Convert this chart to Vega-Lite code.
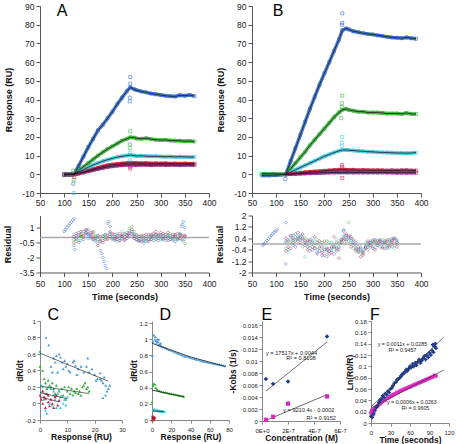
{
"$schema":"https://vega.github.io/schema/vega-lite/v6.json",
"padding":{"left":-2,"top":2,"right":0,"bottom":0},
"config":{
 "font":"Liberation Sans",
 "view":{"stroke":null},
 "axis":{"grid":false,"labelFont":"Liberation Sans","labelFontSize":8.5,"labelColor":"#222","titleFont":"Liberation Sans","titleFontSize":9,"titleFontWeight":"bold","titleColor":"#111","domainColor":"#555","tickColor":"#555","labelFlush":false,"labelOverlap":false,"labelBound":false,"tickCount":100,"labelExpr":"'' + datum.value"},
 "text":{"font":"Liberation Sans"},
 "title":{"font":"Liberation Sans"}
},
"datasets":{
 "A":[
  {"t":100,"b":-0.5,"g":0,"c":0.2,"r":-0.3,"m":0},
  {"t":105,"b":-0.3,"g":-0.2,"c":0,"r":0,"m":0.1},
  {"t":110,"b":0,"g":0.1,"c":0,"r":-0.2,"m":-0.1},
  {"t":115,"b":-0.2,"g":0,"c":0.2,"r":0,"m":0},
  {"t":120,"b":0,"g":0,"c":0,"r":0,"m":0},
  {"t":125,"b":2,"g":1,"c":0.6,"r":0.3,"m":0.3},
  {"t":130,"b":4.5,"g":2,"c":1.2,"r":0.5,"m":0.4},
  {"t":140,"b":9.5,"g":4,"c":2.5,"r":1.2,"m":1},
  {"t":150,"b":14.5,"g":6,"c":3.8,"r":2,"m":1.6},
  {"t":160,"b":19,"g":8,"c":5,"r":2.8,"m":2.2},
  {"t":170,"b":23.5,"g":10,"c":6,"r":3.5,"m":2.8},
  {"t":180,"b":26.5,"g":11.8,"c":7,"r":4.2,"m":3.4},
  {"t":190,"b":30,"g":13.5,"c":7.8,"r":4.8,"m":3.9},
  {"t":200,"b":33.5,"g":15,"c":8.5,"r":5.2,"m":4.3},
  {"t":210,"b":37.5,"g":16.5,"c":9.2,"r":5.5,"m":4.6},
  {"t":220,"b":41,"g":18,"c":9.6,"r":5.8,"m":4.8},
  {"t":230,"b":44.5,"g":19,"c":10,"r":6,"m":5},
  {"t":237,"b":46.5,"g":19.8,"c":10.3,"r":6.2,"m":5.1},
  {"t":245,"b":45.5,"g":19.6,"c":10,"r":6,"m":5},
  {"t":250,"b":45,"g":19.2,"c":9.8,"r":6.1,"m":4.9},
  {"t":260,"b":44.3,"g":19,"c":9.9,"r":5.9,"m":5.1},
  {"t":270,"b":43.8,"g":19.3,"c":9.7,"r":6,"m":5},
  {"t":280,"b":43.2,"g":18.8,"c":9.6,"r":5.8,"m":4.9},
  {"t":290,"b":42.8,"g":18.5,"c":9.6,"r":5.9,"m":5},
  {"t":300,"b":42.4,"g":18.3,"c":9.5,"r":5.8,"m":5.1},
  {"t":310,"b":42,"g":18.4,"c":9.4,"r":5.9,"m":4.9},
  {"t":320,"b":41.8,"g":18.1,"c":9.5,"r":5.7,"m":5},
  {"t":330,"b":41.6,"g":18,"c":9.3,"r":5.8,"m":5},
  {"t":340,"b":42.3,"g":17.9,"c":9.4,"r":5.7,"m":4.9},
  {"t":350,"b":42,"g":17.7,"c":9.3,"r":5.8,"m":5},
  {"t":360,"b":42.4,"g":17.8,"c":9.2,"r":5.6,"m":5},
  {"t":370,"b":41.8,"g":17.5,"c":9.2,"r":5.7,"m":4.9}
 ],
 "As":[{"t":237,"s":"b","y":52},{"t":237,"s":"b","y":48.5},{"t":236,"s":"b","y":41},{"t":236,"s":"b","y":39},{"t":237,"s":"g","y":23},{"t":236,"s":"g","y":16},{"t":236,"s":"g","y":14},{"t":237,"s":"c","y":11.5},{"t":236,"s":"c","y":7.5},{"t":237,"s":"r","y":3},{"t":237,"s":"m","y":4},{"t":120,"s":"c","y":-10},{"t":119,"s":"b","y":-5},{"t":120,"s":"g","y":-3},{"t":119,"s":"g","y":2},{"t":121,"s":"r","y":-1.5}],
 "B":[
  {"t":70,"b":-0.6,"g":0.3},{"t":78,"b":-0.5,"g":0.3},{"t":86,"b":-0.6,"g":0.2},{"t":94,"b":-0.4,"g":0.3},{"t":100,"b":-0.5,"g":0.2},{"t":110,"b":-0.2,"g":0.1},
  {"t":120,"b":0,"g":0,"c":0,"r":0,"m":0},
  {"t":130,"b":7,"g":3,"c":1.2,"r":0.2,"m":0.1},
  {"t":140,"b":14,"g":6,"c":2.4,"r":0.5,"m":0.2},
  {"t":150,"b":21,"g":9,"c":3.6,"r":0.8,"m":0.3},
  {"t":160,"b":28,"g":12,"c":4.8,"r":1.1,"m":0.4},
  {"t":170,"b":35,"g":15.5,"c":6,"r":1.3,"m":0.5},
  {"t":180,"b":41.5,"g":18.5,"c":7.2,"r":1.5,"m":0.6},
  {"t":190,"b":48,"g":21.5,"c":8.4,"r":1.7,"m":0.7},
  {"t":200,"b":54,"g":24.5,"c":9.6,"r":1.9,"m":0.8},
  {"t":210,"b":60,"g":27.5,"c":10.6,"r":2.1,"m":0.9},
  {"t":220,"b":66,"g":30.5,"c":11.6,"r":2.3,"m":1},
  {"t":230,"b":72,"g":33,"c":12.5,"r":2.4,"m":1},
  {"t":237,"b":77,"g":34.5,"c":13,"r":2.5,"m":1.1},
  {"t":245,"b":78,"g":35,"c":13,"r":2.4,"m":1},
  {"t":250,"b":77.5,"g":34.5,"c":12.9,"r":2.3,"m":1.1},
  {"t":260,"b":76.5,"g":34,"c":12.7,"r":2.4,"m":0.9},
  {"t":270,"b":76,"g":33.5,"c":12.5,"r":2.2,"m":1},
  {"t":280,"b":75.5,"g":33.5,"c":12.3,"r":2.3,"m":1},
  {"t":290,"b":75,"g":33,"c":12.1,"r":2.2,"m":0.9},
  {"t":300,"b":74.8,"g":33,"c":12,"r":2.1,"m":1},
  {"t":310,"b":74.3,"g":33,"c":11.8,"r":2.2,"m":0.9},
  {"t":320,"b":74,"g":32.8,"c":11.7,"r":2.1,"m":1},
  {"t":330,"b":73.5,"g":32.5,"c":11.6,"r":2,"m":0.9},
  {"t":340,"b":73.2,"g":32.5,"c":11.5,"r":2.1,"m":0.9},
  {"t":350,"b":73,"g":32.5,"c":11.4,"r":2,"m":0.8},
  {"t":360,"b":72.8,"g":32.3,"c":11.4,"r":2.1,"m":0.9},
  {"t":370,"b":73.2,"g":32.8,"c":11.3,"r":2.2,"m":0.8},
  {"t":380,"b":72.8,"g":32.3,"c":11.4,"r":2,"m":0.9},
  {"t":390,"b":72.5,"g":32.2,"c":11.6,"r":2,"m":0.8}
 ],
 "Bs":[{"t":237,"s":"b","y":86},{"t":237,"s":"b","y":81},{"t":236,"s":"b","y":80},{"t":237,"s":"g","y":42},{"t":236,"s":"g","y":38},{"t":236,"s":"g","y":36},{"t":235,"s":"g","y":30},{"t":237,"s":"c","y":20},{"t":236,"s":"c","y":17},{"t":236,"s":"c","y":15},{"t":237,"s":"r","y":4},{"t":236,"s":"m","y":5},{"t":237,"s":"r","y":-2},{"t":119,"s":"b","y":-2.5}],
 "RA":[
  {"t":120,"b":-0.8,"g":-0.2,"c":0.3,"r":-0.5,"m":0.1},
  {"t":125,"b":0.2,"g":-0.4,"c":-0.2,"r":0.4,"m":-0.1},
  {"t":130,"b":0.5,"g":-0.3,"c":0.1,"r":0.2,"m":-0.5},
  {"t":135,"b":0.1,"g":0.2,"c":-0.3,"r":0.6,"m":0.3},
  {"t":140,"b":0.6,"g":0.1,"c":0.4,"r":0.2,"m":-0.2},
  {"t":145,"b":0.8,"g":0.5,"c":0.2,"r":0.7,"m":0.4},
  {"t":150,"b":0.4,"g":-0.1,"c":0.6,"r":0.3,"m":0.8},
  {"t":155,"b":0.2,"g":0.3,"c":-0.1,"r":0.5,"m":0.1},
  {"t":160,"b":-0.1,"g":0.6,"c":0.3,"r":-0.2,"m":0.5},
  {"t":165,"b":-0.3,"g":0.2,"c":-0.4,"r":0.1,"m":-0.1},
  {"t":170,"b":-0.6,"g":-0.2,"c":0.1,"r":-0.8,"m":0.2},
  {"t":175,"b":-1.3,"g":0.1,"c":-0.2,"r":-0.4,"m":-0.3},
  {"t":180,"b":-2.0,"g":-0.3,"c":0.2,"r":0.1,"m":-0.5},
  {"t":185,"b":-2.8,"g":0.2,"c":-0.1,"r":-0.2,"m":0.3},
  {"t":190,"b":1.4,"g":-0.1,"c":0.3,"r":0.2,"m":-0.2},
  {"t":195,"b":1.1,"g":0.3,"c":0.5,"r":0.6,"m":0.1},
  {"t":200,"b":0.3,"g":-0.2,"c":0.1,"r":-0.1,"m":0.4},
  {"t":205,"b":-0.1,"g":0.1,"c":-0.3,"r":0.3,"m":-0.2},
  {"t":210,"b":0.2,"g":-0.4,"c":0.4,"r":-0.2,"m":0.1},
  {"t":215,"b":-0.3,"g":0.2,"c":-0.1,"r":0.4,"m":-0.3},
  {"t":220,"b":0.1,"g":-0.1,"c":0.6,"r":0.1,"m":0.2},
  {"t":225,"b":-0.2,"g":0.3,"c":-0.2,"r":-0.3,"m":0.4},
  {"t":230,"b":0.2,"g":0.5,"c":0.3,"r":0.2,"m":-0.1},
  {"t":235,"b":0.5,"g":0.9,"c":0.7,"r":0.4,"m":0.2},
  {"t":240,"b":0.3,"g":1.1,"c":0.4,"r":0.8,"m":0.6},
  {"t":245,"b":0.1,"g":0.6,"c":0.2,"r":-0.1,"m":0.3},
  {"t":250,"b":-0.2,"g":0.3,"c":-0.3,"r":0.2,"m":-0.2},
  {"t":255,"b":-0.4,"g":-0.1,"c":0.1,"r":-0.3,"m":0.1},
  {"t":260,"b":-0.3,"g":0.2,"c":-0.2,"r":0.1,"m":-0.4},
  {"t":265,"b":-0.6,"g":-0.3,"c":0.2,"r":-0.2,"m":0.2},
  {"t":270,"b":-0.4,"g":0.1,"c":-0.3,"r":0.3,"m":-0.1},
  {"t":275,"b":-0.2,"g":-0.2,"c":0.1,"r":-0.4,"m":0.3},
  {"t":280,"b":0.1,"g":0.3,"c":-0.2,"r":0.2,"m":-0.2},
  {"t":285,"b":-0.3,"g":0.1,"c":0.3,"r":0.4,"m":0.1},
  {"t":290,"b":0.2,"g":-0.2,"c":-0.1,"r":0.6,"m":0.3},
  {"t":295,"b":-0.1,"g":0.3,"c":0.2,"r":0.2,"m":-0.3},
  {"t":300,"b":0.3,"g":-0.1,"c":-0.2,"r":0.5,"m":0.2},
  {"t":305,"b":-0.2,"g":0.2,"c":0.1,"r":-0.1,"m":0.4},
  {"t":310,"b":0.1,"g":-0.3,"c":0.3,"r":0.3,"m":-0.1},
  {"t":315,"b":-0.3,"g":0.1,"c":-0.1,"r":0.5,"m":0.2},
  {"t":320,"b":0.2,"g":0.4,"c":0.2,"r":-0.2,"m":-0.2},
  {"t":325,"b":-0.1,"g":-0.2,"c":-0.3,"r":0.3,"m":0.1},
  {"t":330,"b":-0.4,"g":0.2,"c":0.1,"r":0.1,"m":0.3},
  {"t":335,"b":-0.2,"g":-0.1,"c":-0.2,"r":0.4,"m":-0.1},
  {"t":340,"b":0.4,"g":0.3,"c":0.2,"r":-0.1,"m":0.2},
  {"t":345,"b":1.3,"g":-0.2,"c":0.1,"r":0.2,"m":-0.3},
  {"t":350,"b":1.0,"g":-0.6,"c":-0.2,"r":0.1,"m":0.2}
 ],
 "RAx":[{"t":100,"s":"b","y":0.6},{"t":103,"s":"b","y":0.8},{"t":106,"s":"b","y":1.0},{"t":109,"s":"b","y":1.2},{"t":112,"s":"b","y":1.4},{"t":115,"s":"b","y":1.55},{"t":118,"s":"b","y":1.75},{"t":121,"s":"b","y":1.9},{"t":122,"s":"b","y":-1.2},{"t":178,"s":"b","y":-1.6},{"t":183,"s":"b","y":-2.4},{"t":188,"s":"b","y":-3.1},{"t":192,"s":"b","y":1.6},{"t":347,"s":"b","y":1.6},{"t":343,"s":"b","y":1.1}],
 "RB":[
  {"t":120,"b":0.2,"g":-0.3,"c":0.1,"r":-0.5,"m":0.4},
  {"t":125,"b":-0.4,"g":0.3,"c":-0.6,"r":0.2,"m":-0.2},
  {"t":130,"b":0.5,"g":0.1,"c":0.3,"r":-0.3,"m":0.6},
  {"t":135,"b":0.3,"g":0.6,"c":-0.1,"r":0.4,"m":0.1},
  {"t":140,"b":0.7,"g":0.2,"c":0.5,"r":0.3,"m":-0.2},
  {"t":145,"b":0.4,"g":0.5,"c":0.2,"r":0.8,"m":0.3},
  {"t":150,"b":0.6,"g":0.3,"c":0.4,"r":0.1,"m":0.5},
  {"t":155,"b":0.3,"g":-0.2,"c":0.6,"r":0.4,"m":0.7},
  {"t":160,"b":0.1,"g":0.4,"c":-0.9,"r":0.2,"m":-0.1},
  {"t":165,"b":-0.2,"g":0.1,"c":0.3,"r":-0.4,"m":0.2},
  {"t":170,"b":0.2,"g":-0.3,"c":-0.1,"r":0.3,"m":-0.5},
  {"t":175,"b":-0.4,"g":0.2,"c":0.4,"r":-0.2,"m":0.1},
  {"t":180,"b":-0.3,"g":-0.1,"c":0.2,"r":0.5,"m":-0.3},
  {"t":185,"b":-0.6,"g":0.3,"c":-0.4,"r":0.1,"m":-0.7},
  {"t":190,"b":-0.5,"g":-0.2,"c":0.1,"r":-0.3,"m":0.2},
  {"t":195,"b":-0.8,"g":0.1,"c":-0.5,"r":-0.6,"m":-0.2},
  {"t":200,"b":-0.4,"g":-0.4,"c":-0.2,"r":0.2,"m":-0.8},
  {"t":205,"b":-0.9,"g":0.2,"c":-0.6,"r":-0.4,"m":-0.3},
  {"t":210,"b":-0.5,"g":-0.3,"c":0.1,"r":-0.7,"m":-0.5},
  {"t":215,"b":-0.3,"g":0.1,"c":-0.4,"r":-0.2,"m":-0.6},
  {"t":220,"b":-0.7,"g":-0.2,"c":-0.1,"r":0.5,"m":-0.2},
  {"t":225,"b":-0.4,"g":-0.5,"c":0.3,"r":-0.3,"m":0.1},
  {"t":230,"b":-0.2,"g":0.1,"c":-0.2,"r":-1.0,"m":-0.4},
  {"t":235,"b":0.3,"g":0.2,"c":0.1,"r":0.1,"m":0.3},
  {"t":240,"b":0.9,"g":0.5,"c":0.6,"r":0.3,"m":0.4},
  {"t":245,"b":0.6,"g":0.3,"c":0.4,"r":0.7,"m":0.2},
  {"t":250,"b":0.4,"g":1.5,"c":0.2,"r":0.5,"m":0.6},
  {"t":255,"b":0.5,"g":0.1,"c":0.3,"r":-0.2,"m":0.4},
  {"t":260,"b":0.1,"g":-0.3,"c":0.2,"r":0.3,"m":-0.1},
  {"t":265,"b":-0.3,"g":-0.5,"c":-0.1,"r":-0.4,"m":0.1},
  {"t":270,"b":-0.4,"g":-0.6,"c":-0.3,"r":-0.2,"m":-0.5},
  {"t":275,"b":-0.6,"g":-0.4,"c":-0.2,"r":-0.9,"m":-0.3},
  {"t":280,"b":-0.5,"g":-0.8,"c":-0.4,"r":-0.6,"m":-0.7},
  {"t":285,"b":-0.2,"g":-0.3,"c":0.1,"r":-0.3,"m":-0.2},
  {"t":290,"b":-0.1,"g":0.1,"c":-0.2,"r":0.2,"m":-0.4},
  {"t":295,"b":0.1,"g":-0.2,"c":0.2,"r":-0.1,"m":0.1},
  {"t":300,"b":-0.3,"g":0.3,"c":0.1,"r":0.2,"m":-0.2},
  {"t":305,"b":0.2,"g":0.1,"c":-0.3,"r":-0.4,"m":0.3},
  {"t":310,"b":-0.1,"g":0.2,"c":0.3,"r":0.1,"m":-0.1},
  {"t":315,"b":0.3,"g":-0.2,"c":0.1,"r":0.2,"m":0.2},
  {"t":320,"b":-0.2,"g":0.3,"c":-0.1,"r":-0.3,"m":0.1},
  {"t":325,"b":0.1,"g":0.2,"c":0.2,"r":0.1,"m":-0.3},
  {"t":330,"b":-0.3,"g":-0.1,"c":-0.2,"r":0.3,"m":0.2},
  {"t":335,"b":0.2,"g":0.3,"c":0.1,"r":-0.2,"m":-0.1},
  {"t":340,"b":0.4,"g":-0.2,"c":0.3,"r":0.1,"m":0.2},
  {"t":345,"b":-0.1,"g":0.4,"c":-0.3,"r":0.3,"m":0.4},
  {"t":350,"b":0.3,"g":0.1,"c":0.2,"r":-0.2,"m":0.1}
 ],
 "RBx":[{"t":72,"s":"b","y":-0.1},{"t":75,"s":"b","y":0},{"t":78,"s":"b","y":0.12},{"t":81,"s":"b","y":0.24},{"t":84,"s":"b","y":0.36},{"t":87,"s":"b","y":0.48},{"t":90,"s":"b","y":0.6},{"t":93,"s":"b","y":0.7},{"t":96,"s":"b","y":0.82},{"t":99,"s":"b","y":0.92},{"t":102,"s":"b","y":1.0},{"t":120,"s":"b","y":1.5},{"t":120,"s":"b","y":-1.4},{"t":240,"s":"b","y":1.0}],
 "C":[
  {"s":"lb","x":2.2,"y":0.8},{"s":"lb","x":3.2,"y":0.71},{"s":"lb","x":4,"y":0.45},{"s":"lb","x":4.5,"y":0.38},{"s":"lb","x":5,"y":0.55},{"s":"lb","x":5.5,"y":0.5},{"s":"lb","x":6,"y":0.58},{"s":"lb","x":6.5,"y":0.38},{"s":"lb","x":7,"y":0.6},{"s":"lb","x":7.5,"y":0.56},{"s":"lb","x":8,"y":0.5},{"s":"lb","x":8.5,"y":0.42},{"s":"lb","x":9,"y":0.52},{"s":"lb","x":9.5,"y":0.45},{"s":"lb","x":10,"y":0.48},{"s":"lb","x":10.5,"y":0.4},{"s":"lb","x":11,"y":0.38},{"s":"lb","x":12,"y":0.5},{"s":"lb","x":12.5,"y":0.52},{"s":"lb","x":13,"y":0.46},{"s":"lb","x":13.5,"y":0.35},{"s":"lb","x":14,"y":0.42},{"s":"lb","x":15,"y":0.45},{"s":"lb","x":16,"y":0.38},{"s":"lb","x":17,"y":0.45},{"s":"lb","x":17.5,"y":0.55},{"s":"lb","x":18,"y":0.38},{"s":"lb","x":19,"y":0.42},{"s":"lb","x":20,"y":0.35},{"s":"lb","x":20.5,"y":0.28},{"s":"lb","x":21,"y":0.3},{"s":"lb","x":22,"y":0.3},{"s":"lb","x":22,"y":0.37},{"s":"lb","x":22.5,"y":0.28},{"s":"lb","x":23,"y":0.25},{"s":"lb","x":23.5,"y":0.32},{"s":"lb","x":24,"y":0.22},{"s":"lb","x":24.5,"y":0.15},{"s":"lb","x":25,"y":0.18},{"s":"lb","x":25.5,"y":0.22},{"s":"lb","x":23,"y":0.07},{"s":"lb","x":24,"y":0.1},
  {"s":"g","x":0,"y":0.63},{"s":"g","x":0,"y":0.45},{"s":"g","x":1,"y":0.4},{"s":"g","x":1.5,"y":0.3},{"s":"g","x":2,"y":0.25},{"s":"g","x":2.5,"y":0.18},{"s":"g","x":3,"y":0.28},{"s":"g","x":3.5,"y":0.22},{"s":"g","x":4,"y":0.2},{"s":"g","x":4.5,"y":0.25},{"s":"g","x":5,"y":0.18},{"s":"g","x":5.5,"y":0.12},{"s":"g","x":6,"y":0.22},{"s":"g","x":7,"y":0.15},{"s":"g","x":7.5,"y":0.08},{"s":"g","x":8,"y":0.18},{"s":"g","x":8.5,"y":0.1},{"s":"g","x":9,"y":0.2},{"s":"g","x":9.5,"y":0.05},{"s":"g","x":10,"y":0.15},{"s":"g","x":10.5,"y":0.2},{"s":"g","x":11,"y":0.12},{"s":"g","x":11.5,"y":0.18},{"s":"g","x":12,"y":0.1},{"s":"g","x":12.5,"y":0.15},{"s":"g","x":13,"y":0.13},{"s":"g","x":13.5,"y":0.18},{"s":"g","x":14,"y":0.12},{"s":"g","x":14.5,"y":0.15},{"s":"g","x":15,"y":0.1},{"s":"g","x":15.5,"y":0.2},{"s":"g","x":16,"y":0.22},{"s":"g","x":16.5,"y":0.25},{"s":"g","x":17,"y":0.18},{"s":"g","x":17.5,"y":0.2},{"s":"g","x":18,"y":0.15},
  {"s":"c","x":0.5,"y":0.22},{"s":"c","x":1,"y":0.15},{"s":"c","x":1,"y":0.2},{"s":"c","x":1.5,"y":0.05},{"s":"c","x":2,"y":-0.08},{"s":"c","x":2,"y":0.12},{"s":"c","x":2.5,"y":-0.12},{"s":"c","x":3,"y":0.1},{"s":"c","x":3,"y":0.2},{"s":"c","x":3.5,"y":0},{"s":"c","x":4,"y":0.18},{"s":"c","x":4.5,"y":-0.02},{"s":"c","x":5,"y":0.1},{"s":"c","x":5,"y":0.15},{"s":"c","x":5.5,"y":0.05},{"s":"c","x":6,"y":-0.05},{"s":"c","x":6.5,"y":0.12},{"s":"c","x":7,"y":0.03},{"s":"c","x":7,"y":0.16},{"s":"c","x":7.5,"y":-0.05},{"s":"c","x":8,"y":0.1},{"s":"c","x":8.5,"y":0},{"s":"c","x":9,"y":0.05},{"s":"c","x":9.5,"y":-0.02},{"s":"c","x":10,"y":0.08},
  {"s":"r","x":0,"y":0.1},{"s":"r","x":0.5,"y":0.05},{"s":"r","x":1,"y":0},{"s":"r","x":1,"y":0.15},{"s":"r","x":1.5,"y":0.08},{"s":"r","x":2,"y":-0.05},{"s":"r","x":2,"y":0.06},{"s":"r","x":2.5,"y":0.12},{"s":"r","x":3,"y":0.02},{"s":"r","x":3,"y":0.1},{"s":"r","x":3.5,"y":-0.03},{"s":"r","x":4,"y":0.05},{"s":"r","x":4.5,"y":0},{"s":"r","x":5,"y":-0.05},{"s":"r","x":5.5,"y":0.08},{"s":"r","x":6,"y":0.1},{"s":"r","x":6.5,"y":-0.02},{"s":"r","x":7,"y":0.04}
 ],
 "Cl":[{"s":"lb","x":0,"y":0.61},{"s":"lb","x":25,"y":0.27},{"s":"g","x":0,"y":0.21},{"s":"g","x":18,"y":0.12},{"s":"c","x":0,"y":0.13},{"s":"c","x":10,"y":0.06},{"s":"r","x":0,"y":0.08},{"s":"r","x":7,"y":0.02}],
 "D":[
  {"s":"lb","x":0.5,"y":0.8},{"s":"lb","x":1,"y":0.97},{"s":"lb","x":2,"y":1.05},{"s":"lb","x":3,"y":1.0},{"s":"lb","x":3.5,"y":1.03},{"s":"lb","x":4,"y":0.98},{"s":"lb","x":5,"y":0.96},{"s":"lb","x":5.5,"y":1.0},{"s":"lb","x":6,"y":0.97},{"s":"lb","x":6.5,"y":0.93},{"s":"lb","x":7,"y":1.0},{"s":"lb","x":8,"y":0.94},{"s":"lb","x":9,"y":0.92},{"s":"lb","x":9,"y":0.95},{"s":"lb","x":10,"y":0.91},{"s":"lb","x":12,"y":0.9},{"s":"lb","x":14,"y":0.89},{"s":"lb","x":16,"y":0.88},{"s":"lb","x":18,"y":0.87},{"s":"lb","x":20,"y":0.86},{"s":"lb","x":22,"y":0.85},{"s":"lb","x":24,"y":0.84},{"s":"lb","x":26,"y":0.83},{"s":"lb","x":28,"y":0.82},{"s":"lb","x":30,"y":0.81},{"s":"lb","x":32,"y":0.8},{"s":"lb","x":34,"y":0.79},{"s":"lb","x":36,"y":0.785},{"s":"lb","x":38,"y":0.78},{"s":"lb","x":40,"y":0.77},{"s":"lb","x":42,"y":0.765},{"s":"lb","x":44,"y":0.76},{"s":"lb","x":46,"y":0.75},{"s":"lb","x":48,"y":0.745},{"s":"lb","x":50,"y":0.74},{"s":"lb","x":52,"y":0.73},{"s":"lb","x":54,"y":0.725},{"s":"lb","x":56,"y":0.72},{"s":"lb","x":58,"y":0.715},{"s":"lb","x":60,"y":0.71},{"s":"lb","x":62,"y":0.705},{"s":"lb","x":64,"y":0.7},{"s":"lb","x":66,"y":0.695},{"s":"lb","x":68,"y":0.69},{"s":"lb","x":70,"y":0.685},{"s":"lb","x":72,"y":0.68},{"s":"lb","x":74,"y":0.675},{"s":"lb","x":76,"y":0.67},
  {"s":"g","x":0,"y":0.22},{"s":"g","x":1,"y":0.42},{"s":"g","x":2,"y":0.45},{"s":"g","x":3,"y":0.44},{"s":"g","x":4,"y":0.4},{"s":"g","x":5,"y":0.38},{"s":"g","x":6,"y":0.37},{"s":"g","x":8,"y":0.36},{"s":"g","x":10,"y":0.35},{"s":"g","x":12,"y":0.345},{"s":"g","x":14,"y":0.34},{"s":"g","x":16,"y":0.335},{"s":"g","x":18,"y":0.33},{"s":"g","x":20,"y":0.325},{"s":"g","x":22,"y":0.32},{"s":"g","x":24,"y":0.315},{"s":"g","x":26,"y":0.31},{"s":"g","x":28,"y":0.305},{"s":"g","x":30,"y":0.3},{"s":"g","x":32,"y":0.295},{"s":"g","x":33,"y":0.29},
  {"s":"c","x":0,"y":0.05},{"s":"c","x":1,"y":0.12},{"s":"c","x":2,"y":0.14},{"s":"c","x":3,"y":0.13},{"s":"c","x":4,"y":0.12},{"s":"c","x":5,"y":0.13},{"s":"c","x":6,"y":0.12},{"s":"c","x":7,"y":0.11},{"s":"c","x":8,"y":0.12},{"s":"c","x":9,"y":0.11},{"s":"c","x":10,"y":0.11},{"s":"c","x":11,"y":0.11},{"s":"c","x":12,"y":0.105},{"s":"c","x":13,"y":0.105},
  {"s":"r","x":0,"y":0},{"s":"r","x":0.5,"y":0.03},{"s":"r","x":1,"y":0.05},{"s":"r","x":1,"y":0},{"s":"r","x":1.5,"y":0.02},{"s":"r","x":2,"y":0.04},{"s":"r","x":2.5,"y":0.01},{"s":"r","x":3,"y":0.03}
 ],
 "Dl":[{"s":"lb","x":0,"y":0.95},{"s":"lb","x":20,"y":0.865},{"s":"lb","x":40,"y":0.78},{"s":"lb","x":60,"y":0.715},{"s":"lb","x":76,"y":0.665},{"s":"g","x":0,"y":0.37},{"s":"g","x":33,"y":0.29},{"s":"c","x":1,"y":0.11},{"s":"c","x":12,"y":0.105},{"s":"r","x":0,"y":0.03},{"s":"r","x":3,"y":0.02}],
 "Eb":[{"x":3e-8,"y":0.007},{"x":8.5e-8,"y":0.0062},{"x":2e-7,"y":0.0066},{"x":5e-7,"y":0.0141}],
 "Em":[{"x":3e-8,"y":0.0002},{"x":8.5e-8,"y":0.0007},{"x":2e-7,"y":0.0029},{"x":5e-7,"y":0.0041}],
 "El":[{"s":"b","x":3e-8,"y":0.005},{"s":"b","x":5e-7,"y":0.0132},{"s":"m","x":3e-8,"y":0.0001},{"s":"m","x":5e-7,"y":0.0044}],
 "Fb":[{"t":0,"y":0.012},{"t":2,"y":0.01},{"t":4,"y":0.016},{"t":6,"y":0.022},{"t":8,"y":0.028},{"t":10,"y":0.03},{"t":12,"y":0.036},{"t":14,"y":0.04},{"t":16,"y":0.042},{"t":18,"y":0.048},{"t":20,"y":0.045},{"t":22,"y":0.052},{"t":24,"y":0.05},{"t":26,"y":0.056},{"t":28,"y":0.054},{"t":30,"y":0.06},{"t":32,"y":0.062},{"t":34,"y":0.066},{"t":36,"y":0.07},{"t":38,"y":0.072},{"t":40,"y":0.076},{"t":42,"y":0.078},{"t":44,"y":0.08},{"t":46,"y":0.083},{"t":48,"y":0.086},{"t":50,"y":0.088},{"t":52,"y":0.09},{"t":54,"y":0.094},{"t":56,"y":0.092},{"t":58,"y":0.096},{"t":60,"y":0.1},{"t":62,"y":0.098},{"t":64,"y":0.104},{"t":66,"y":0.1},{"t":68,"y":0.106},{"t":70,"y":0.102},{"t":72,"y":0.108},{"t":74,"y":0.112},{"t":76,"y":0.106},{"t":78,"y":0.11},{"t":80,"y":0.114},{"t":82,"y":0.118},{"t":84,"y":0.112},{"t":86,"y":0.12},{"t":88,"y":0.116},{"t":90,"y":0.124},{"t":92,"y":0.12},{"t":94,"y":0.128},{"t":95,"y":0.138},{"t":96,"y":0.125},{"t":98,"y":0.135},{"t":99,"y":0.14},{"t":100,"y":0.132}],
 "Fm":[{"t":0,"y":0.018},{"t":1,"y":0.022},{"t":2,"y":0.02},{"t":3,"y":0.016},{"t":4,"y":0.024},{"t":6,"y":0.026},{"t":8,"y":0.028},{"t":10,"y":0.03},{"t":12,"y":0.033},{"t":14,"y":0.034},{"t":16,"y":0.037},{"t":18,"y":0.038},{"t":20,"y":0.04},{"t":22,"y":0.041},{"t":24,"y":0.043},{"t":26,"y":0.044},{"t":28,"y":0.046},{"t":30,"y":0.047},{"t":32,"y":0.048},{"t":34,"y":0.05},{"t":36,"y":0.051},{"t":38,"y":0.052},{"t":40,"y":0.054},{"t":42,"y":0.054},{"t":44,"y":0.056},{"t":46,"y":0.057},{"t":48,"y":0.058},{"t":50,"y":0.059},{"t":52,"y":0.06},{"t":54,"y":0.061},{"t":56,"y":0.062},{"t":58,"y":0.063},{"t":60,"y":0.064},{"t":62,"y":0.065},{"t":64,"y":0.066},{"t":66,"y":0.067},{"t":68,"y":0.068},{"t":70,"y":0.069},{"t":72,"y":0.07},{"t":74,"y":0.071},{"t":76,"y":0.072},{"t":78,"y":0.073},{"t":80,"y":0.074},{"t":82,"y":0.075},{"t":84,"y":0.076},{"t":86,"y":0.077},{"t":88,"y":0.078},{"t":90,"y":0.079},{"t":92,"y":0.08},{"t":94,"y":0.081},{"t":96,"y":0.082},{"t":98,"y":0.084},{"t":100,"y":0.083}],
 "Fl":[{"s":"b","t":0,"y":0.0285},{"s":"b","t":112,"y":0.1517},{"s":"m","t":0,"y":0.0263},{"s":"m","t":112,"y":0.0935}]
},
"spacing":4.5,
"columns":1,
"align":"none",
"concat":[
 {"hconcat":[
  {"width":169,"height":187,
   "title":{"text":" ","anchor":"start","frame":"group","dx":-42,"offset":-40,"fontSize":5},
   "layer":[
    {"data":{"name":"A"},
     "transform":[{"fold":["b","g","c","r","m"],"as":["s","y"]},{"filter":"isValid(datum.y)"}],
     "encoding":{
      "x":{"field":"t","type":"quantitative","scale":{"domain":[50,400],"nice":false,"zero":false},"axis":{"values":[50,100,150,200,250,300,350,400],"tickCount":100,"title":null,"tickSize":4,"labelPadding":1.5,"labelOverlap":false}},
      "y":{"field":"y","type":"quantitative","scale":{"domain":[-10,90],"nice":false,"zero":false},"axis":{"values":[-10,0,10,20,30,40,50,60,70,80,90],"tickCount":100,"title":"Response (RU)","titlePadding":8,"tickSize":4,"labelPadding":2,"labelOverlap":false}}},
     "layer":[
      {"mark":{"type":"line","strokeWidth":3.5,"opacity":0.85},"encoding":{"color":{"field":"s","type":"nominal","legend":null,"scale":{"domain":["b","g","c","r","m","lb"],"range":["#2c68cc","#35b035","#3ec6df","#c81e3c","#9a2c8c","#4a9be0"]}}}},
      {"mark":{"type":"point","shape":"square","filled":false,"size":9,"strokeWidth":0.8},"encoding":{"color":{"field":"s","type":"nominal","legend":null,"scale":{"domain":["b","g","c","r","m","lb"],"range":["#2c68cc","#35b035","#3ec6df","#c81e3c","#9a2c8c","#4a9be0"]}}}},
      {"mark":{"type":"line","strokeWidth":0.8,"color":"#1a1a1a"},"encoding":{"detail":{"field":"s","type":"nominal"}}}
     ]},
    {"data":{"name":"As"},"mark":{"type":"point","shape":"square","filled":false,"size":9,"strokeWidth":0.8},
     "encoding":{"x":{"field":"t","type":"quantitative"},"y":{"field":"y","type":"quantitative"},"color":{"field":"s","type":"nominal","legend":null,"scale":{"domain":["b","g","c","r","m","lb"],"range":["#2c68cc","#35b035","#3ec6df","#c81e3c","#9a2c8c","#4a9be0"]}}}},
    {"data":{"values":[{}]},"mark":{"type":"text","fontSize":16,"baseline":"alphabetic","align":"center","color":"#000"},
     "encoding":{"x":{"datum":95.6},"y":{"datum":84.7},"text":{"value":"A"}}}
   ]},
  {"width":169,"height":187,
   "layer":[
    {"data":{"name":"B"},
     "transform":[{"fold":["b","g","c","r","m"],"as":["s","y"]},{"filter":"isValid(datum.y)"}],
     "encoding":{
      "x":{"field":"t","type":"quantitative","scale":{"domain":[50,400],"nice":false,"zero":false},"axis":{"values":[50,100,150,200,250,300,350,400],"tickCount":100,"title":null,"tickSize":4,"labelPadding":1.5,"labelOverlap":false}},
      "y":{"field":"y","type":"quantitative","scale":{"domain":[-10,90],"nice":false,"zero":false},"axis":{"values":[-10,0,10,20,30,40,50,60,70,80,90],"tickCount":100,"title":"Response (RU)","titlePadding":8,"tickSize":4,"labelPadding":2,"labelOverlap":false}}},
     "layer":[
      {"mark":{"type":"line","strokeWidth":3.5,"opacity":0.85},"encoding":{"color":{"field":"s","type":"nominal","legend":null,"scale":{"domain":["b","g","c","r","m","lb"],"range":["#2c68cc","#35b035","#3ec6df","#c81e3c","#9a2c8c","#4a9be0"]}}}},
      {"mark":{"type":"point","shape":"square","filled":false,"size":9,"strokeWidth":0.8},"encoding":{"color":{"field":"s","type":"nominal","legend":null,"scale":{"domain":["b","g","c","r","m","lb"],"range":["#2c68cc","#35b035","#3ec6df","#c81e3c","#9a2c8c","#4a9be0"]}}}},
      {"mark":{"type":"line","strokeWidth":0.8,"color":"#1a1a1a"},"encoding":{"detail":{"field":"s","type":"nominal"}}}
     ]},
    {"data":{"name":"Bs"},"mark":{"type":"point","shape":"square","filled":false,"size":9,"strokeWidth":0.8},
     "encoding":{"x":{"field":"t","type":"quantitative"},"y":{"field":"y","type":"quantitative"},"color":{"field":"s","type":"nominal","legend":null,"scale":{"domain":["b","g","c","r","m","lb"],"range":["#2c68cc","#35b035","#3ec6df","#c81e3c","#9a2c8c","#4a9be0"]}}}},
    {"data":{"values":[{}]},"mark":{"type":"text","fontSize":16,"baseline":"alphabetic","align":"center","color":"#000"},
     "encoding":{"x":{"datum":103.8},"y":{"datum":84.7},"text":{"value":"B"}}}
   ]}
 ],"spacing":43,"bounds":"flush"},
 {"hconcat":[
  {"width":169,"height":57,
   "title":{"text":" ","anchor":"start","frame":"group","dx":-42,"offset":-30,"fontSize":5},
   "layer":[
    {"data":{"values":[{}]},"mark":{"type":"rule","color":"#aaaaaa","strokeWidth":1.5},"encoding":{"y":{"datum":0}}},
    {"data":{"name":"RA"},
     "transform":[{"fold":["b","g","c","r","m"],"as":["s","y"]},{"filter":"isValid(datum.y)"}],
     "mark":{"type":"point","shape":"diamond","filled":false,"size":10,"strokeWidth":0.7},
     "encoding":{
      "x":{"field":"t","type":"quantitative","scale":{"domain":[50,400],"nice":false,"zero":false},"axis":{"values":[50,100,150,200,250,300,350,400],"tickCount":100,"title":"Time (seconds)","titlePadding":4,"tickSize":4,"labelPadding":3,"labelOverlap":false}},
      "y":{"field":"y","type":"quantitative","scale":{"domain":[-3.5,2.2],"nice":false,"zero":false},"axis":{"values":[-3.5,-2,-0.5,1],"tickCount":100,"title":"Residual","titlePadding":7,"tickSize":4,"labelPadding":2,"labelOverlap":false}},
      "color":{"field":"s","type":"nominal","legend":null,"scale":{"domain":["b","g","c","r","m","lb"],"range":["#2c68cc","#35b035","#3ec6df","#c81e3c","#9a2c8c","#4a9be0"]}}}},
    {"data":{"name":"RAx"},"mark":{"type":"point","shape":"diamond","filled":false,"size":10,"strokeWidth":0.7},
     "encoding":{"x":{"field":"t","type":"quantitative"},"y":{"field":"y","type":"quantitative"},"color":{"field":"s","type":"nominal","legend":null,"scale":{"domain":["b","g","c","r","m","lb"],"range":["#2c68cc","#35b035","#3ec6df","#c81e3c","#9a2c8c","#4a9be0"]}}}}
   ]},
  {"width":169,"height":57,
   "layer":[
    {"data":{"values":[{}]},"mark":{"type":"rule","color":"#aaaaaa","strokeWidth":1.5},"encoding":{"y":{"datum":0}}},
    {"data":{"name":"RB"},
     "transform":[{"fold":["b","g","c","r","m"],"as":["s","y"]},{"filter":"isValid(datum.y)"}],
     "mark":{"type":"point","shape":"diamond","filled":false,"size":10,"strokeWidth":0.7},
     "encoding":{
      "x":{"field":"t","type":"quantitative","scale":{"domain":[50,400],"nice":false,"zero":false},"axis":{"values":[50,100,150,200,250,300,350,400],"tickCount":100,"title":"Time (seconds)","titlePadding":4,"tickSize":4,"labelPadding":3,"labelOverlap":false}},
      "y":{"field":"y","type":"quantitative","scale":{"domain":[-2,2],"nice":false,"zero":false},"axis":{"values":[-2,-1.2,-0.4,0.4,1.2,2],"tickCount":100,"title":"Residual","titlePadding":7,"tickSize":4,"labelPadding":2,"labelOverlap":false}},
      "color":{"field":"s","type":"nominal","legend":null,"scale":{"domain":["b","g","c","r","m","lb"],"range":["#2c68cc","#35b035","#3ec6df","#c81e3c","#9a2c8c","#4a9be0"]}}}},
    {"data":{"name":"RBx"},"mark":{"type":"point","shape":"diamond","filled":false,"size":10,"strokeWidth":0.7},
     "encoding":{"x":{"field":"t","type":"quantitative"},"y":{"field":"y","type":"quantitative"},"color":{"field":"s","type":"nominal","legend":null,"scale":{"domain":["b","g","c","r","m","lb"],"range":["#2c68cc","#35b035","#3ec6df","#c81e3c","#9a2c8c","#4a9be0"]}}}}
   ]}
 ],"spacing":43,"bounds":"flush"},
 {"hconcat":[
  {"width":82,"height":99,
   "title":{"text":" ","anchor":"start","frame":"group","dx":-25,"offset":-30,"fontSize":5},
   "layer":[
    {"data":{"name":"C"},"mark":{"type":"point","shape":"triangle-up","filled":true,"size":9,"opacity":1},
     "encoding":{
      "x":{"field":"x","type":"quantitative","scale":{"domain":[0,30],"nice":false,"zero":false},"axis":{"values":[0,10,20,30],"tickCount":100,"title":"Response (RU)","labelFontSize":6,"titleFontSize":8.5,"titlePadding":0,"tickSize":3,"labelPadding":3.5,"domainColor":"#888","tickColor":"#888","labelOverlap":false}},
      "y":{"field":"y","type":"quantitative","scale":{"domain":[-0.2,1],"nice":false,"zero":false},"axis":{"values":[-0.2,0,0.2,0.4,0.6,0.8,1],"tickCount":100,"title":"dR/dt","labelFontSize":6,"titleFontSize":8.5,"titlePadding":0,"tickSize":3,"labelPadding":1.7,"domainColor":"#888","tickColor":"#888","labelOverlap":false}},
      "color":{"field":"s","type":"nominal","legend":null,"scale":{"domain":["b","g","c","r","m","lb"],"range":["#2c68cc","#35b035","#3ec6df","#c81e3c","#9a2c8c","#4a9be0"]}}}},
    {"data":{"name":"Cl"},"mark":{"type":"line","strokeWidth":0.7,"color":"#333"},
     "encoding":{"x":{"field":"x","type":"quantitative"},"y":{"field":"y","type":"quantitative"},"detail":{"field":"s","type":"nominal"}}},
    {"data":{"values":[{}]},"mark":{"type":"text","fontSize":16,"baseline":"alphabetic","align":"center","color":"#000"},
     "encoding":{"x":{"datum":4.9},"y":{"datum":1.012},"text":{"value":"C"}}}
   ]},
  {"width":77,"height":99,
   "title":{"text":" ","anchor":"start","frame":"group","dx":-70.5,"offset":-30,"fontSize":5},
   "layer":[
    {"data":{"name":"D"},"mark":{"type":"point","shape":"triangle-up","filled":true,"size":9,"opacity":1},
     "encoding":{
      "x":{"field":"x","type":"quantitative","scale":{"domain":[0,80],"nice":false,"zero":false},"axis":{"values":[0,20,40,60,80],"tickCount":100,"title":"Response (RU)","labelFontSize":6,"titleFontSize":8.5,"titlePadding":0,"tickSize":3,"labelPadding":3.5,"domainColor":"#888","tickColor":"#888","labelOverlap":false}},
      "y":{"field":"y","type":"quantitative","scale":{"domain":[0,1.225],"nice":false,"zero":false},"axis":{"values":[0,0.2,0.4,0.6,0.8,1,1.2],"tickCount":100,"title":"dR/dt","labelFontSize":6,"titleFontSize":8.5,"titlePadding":0,"tickSize":3,"labelPadding":1.7,"domainColor":"#888","tickColor":"#888","labelOverlap":false}},
      "color":{"field":"s","type":"nominal","legend":null,"scale":{"domain":["b","g","c","r","m","lb"],"range":["#2c68cc","#35b035","#3ec6df","#c81e3c","#9a2c8c","#4a9be0"]}}}},
    {"data":{"name":"Dl"},"mark":{"type":"line","strokeWidth":0.8,"color":"#222"},
     "encoding":{"x":{"field":"x","type":"quantitative"},"y":{"field":"y","type":"quantitative"},"detail":{"field":"s","type":"nominal"}}},
    {"data":{"values":[{}]},"mark":{"type":"text","fontSize":16,"baseline":"alphabetic","align":"center","color":"#000"},
     "encoding":{"x":{"datum":13.8},"y":{"datum":1.237},"text":{"value":"D"}}}
   ]},
  {"width":78,"height":100,
   "title":{"text":" ","anchor":"start","frame":"group","dx":-73.5,"offset":-30,"fontSize":5},
   "layer":[
    {"data":{"name":"El"},"mark":{"type":"line","strokeWidth":0.7,"color":"#333"},
     "encoding":{
      "x":{"field":"x","type":"quantitative","scale":{"domain":[0,6e-7],"nice":false,"zero":false},"axis":{"values":[0,2e-7,4e-7,6e-7],"tickCount":100,"labelExpr":"datum.value == 0 ? '0E+0' : round(datum.value*1e7) + 'E-7'","title":"Concentration (M)","labelFontSize":6,"titleFontSize":8.5,"titlePadding":0,"tickSize":3,"labelPadding":3.5,"domainColor":"#888","tickColor":"#888","labelOverlap":false}},
      "y":{"field":"y","type":"quantitative","scale":{"domain":[0,0.0167],"nice":false,"zero":false},"axis":{"values":[0,0.002,0.004,0.006,0.008,0.01,0.012,0.014,0.016],"tickCount":100,"title":"-Kobs (1/s)","labelFontSize":6,"titleFontSize":8.5,"titlePadding":5,"tickSize":3,"labelPadding":1.7,"domainColor":"#888","tickColor":"#888","labelOverlap":false}},
      "detail":{"field":"s","type":"nominal"}}},
    {"data":{"name":"Eb"},"mark":{"type":"point","shape":"diamond","filled":true,"size":20,"color":"#1d3a8a","opacity":1},
     "encoding":{"x":{"field":"x","type":"quantitative"},"y":{"field":"y","type":"quantitative"}}},
    {"data":{"name":"Em"},"mark":{"type":"point","shape":"square","filled":true,"size":18,"color":"#d22cb8","opacity":1},
     "encoding":{"x":{"field":"x","type":"quantitative"},"y":{"field":"y","type":"quantitative"}}},
    {"data":{"values":[{}]},"mark":{"type":"text","fontSize":5.6,"align":"center","baseline":"middle","color":"#222"},
     "encoding":{"x":{"datum":2.27e-7},"y":{"datum":0.01135},"text":{"value":"y = 17517x + 0.0044"}}},
    {"data":{"values":[{}]},"mark":{"type":"text","fontSize":5.6,"align":"center","baseline":"middle","color":"#222"},
     "encoding":{"x":{"datum":3.0e-7},"y":{"datum":0.0105},"text":{"value":"R² = 0.8108"}}},
    {"data":{"values":[{}]},"mark":{"type":"text","fontSize":5.6,"align":"center","baseline":"middle","color":"#222"},
     "encoding":{"x":{"datum":3.6e-7},"y":{"datum":0.00184},"text":{"value":"y = 9210.4x - 0.0002"}}},
    {"data":{"values":[{}]},"mark":{"type":"text","fontSize":5.6,"align":"center","baseline":"middle","color":"#222"},
     "encoding":{"x":{"datum":4.55e-7},"y":{"datum":0.0005},"text":{"value":"R² = 0.9152"}}},
    {"data":{"values":[{}]},"mark":{"type":"text","fontSize":16,"baseline":"alphabetic","align":"center","color":"#000"},
     "encoding":{"x":{"datum":0.37e-7},"y":{"datum":0.01687},"text":{"value":"E"}}}
   ]},
  {"width":78,"height":102,
   "title":{"text":" ","anchor":"start","frame":"group","dx":-68.2,"offset":-30,"fontSize":5},
   "layer":[
    {"data":{"name":"Fm"},"mark":{"type":"point","shape":"square","filled":true,"size":12,"color":"#e02ac6","opacity":1},
     "encoding":{
      "x":{"field":"t","type":"quantitative","scale":{"domain":[0,120],"nice":false,"zero":false},"axis":{"values":[0,30,60,90,120],"tickCount":100,"title":"Time (seconds)","labelFontSize":6,"titleFontSize":8.5,"titlePadding":0,"tickSize":3,"labelPadding":3.5,"domainColor":"#888","tickColor":"#888","labelOverlap":false}},
      "y":{"field":"y","type":"quantitative","scale":{"domain":[0,0.18],"nice":false,"zero":false},"axis":{"values":[0,0.02,0.04,0.06,0.08,0.1,0.12,0.14,0.16,0.18],"tickCount":100,"title":"Ln(R0/R)","labelFontSize":6,"titleFontSize":8.5,"titlePadding":0.6,"tickSize":3,"labelPadding":1.7,"domainColor":"#888","tickColor":"#888","labelOverlap":false}}}},
    {"data":{"name":"Fb"},"mark":{"type":"point","shape":"cross","filled":true,"size":14,"color":"#1d3a8a","opacity":1},
     "encoding":{"x":{"field":"t","type":"quantitative"},"y":{"field":"y","type":"quantitative"}}},
    {"data":{"name":"Fl"},"mark":{"type":"line","strokeWidth":0.7,"color":"#333"},
     "encoding":{"x":{"field":"t","type":"quantitative"},"y":{"field":"y","type":"quantitative"},"detail":{"field":"s","type":"nominal"}}},
    {"data":{"values":[{}]},"mark":{"type":"text","fontSize":5.3,"align":"center","baseline":"middle","color":"#222"},
     "encoding":{"x":{"datum":48.3},"y":{"datum":0.1389},"text":{"value":"y = 0.0011x + 0.0285"}}},
    {"data":{"values":[{}]},"mark":{"type":"text","fontSize":5.3,"align":"center","baseline":"middle","color":"#222"},
     "encoding":{"x":{"datum":48.3},"y":{"datum":0.1283},"text":{"value":"R² = 0.9457"}}},
    {"data":{"values":[{}]},"mark":{"type":"text","fontSize":5.3,"align":"center","baseline":"middle","color":"#222"},
     "encoding":{"x":{"datum":62.9},"y":{"datum":0.0376},"text":{"value":"y = 0.0006x + 0.0263"}}},
    {"data":{"values":[{}]},"mark":{"type":"text","fontSize":5.3,"align":"center","baseline":"middle","color":"#222"},
     "encoding":{"x":{"datum":68.3},"y":{"datum":0.026},"text":{"value":"R² = 0.9605"}}},
    {"data":{"values":[{}]},"mark":{"type":"text","fontSize":16,"baseline":"alphabetic","align":"center","color":"#000"},
     "encoding":{"x":{"datum":5.9},"y":{"datum":0.1818},"text":{"value":"F"}}}
   ]}
 ],"spacing":-45}
]
}
